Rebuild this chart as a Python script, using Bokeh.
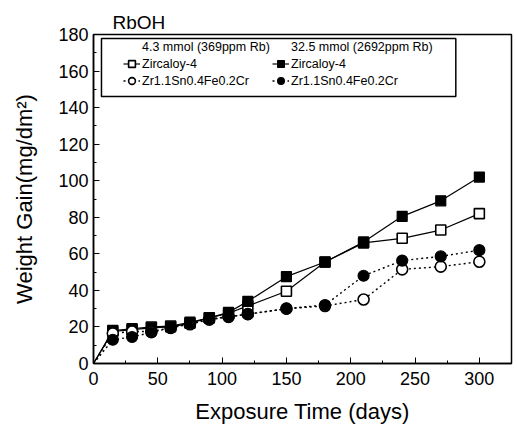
from bokeh.plotting import figure
from bokeh.models import (Legend, LegendItem, BoxAnnotation, Range1d,
                          SingleIntervalTicker)
from bokeh.embed import file_html
from bokeh.resources import INLINE

# ---- data ----
days = [0, 15, 30, 45, 60, 75, 90, 105, 120, 150, 180, 210, 240, 270, 300]
zry4_low = [0, 18, 19, 20, 20.5, 22.5, 25, 27.5, 31.5, 39.5, 55.5, 66, 68.5, 73, 82]
zry4_high = [0, 17.5, 18.5, 19.5, 20, 22, 25, 28, 34, 47.5, 55.5, 66.5, 80.5, 89, 102]
zr1_low = [0, 16.5, 17.5, 17.5, 19.5, 21.5, 24, 25.5, 27, 30, 31.5, 35, 51.5, 53, 55.7]
zr1_high = [0, 13, 14.5, 17, 19.5, 22, 24.5, 25.5, 27, 30, 32, 48, 56.3, 58.6, 62]

header_low = "4.3 mmol (369ppm Rb)"
header_high = "32.5 mmol (2692ppm Rb)"
name_zry4 = "Zircaloy-4"
name_zr1 = "Zr1.1Sn0.4Fe0.2Cr"

FONT = "Liberation Sans"

p = figure(width=514, height=426, output_backend="svg", toolbar_location=None,
           x_range=Range1d(0, 325), y_range=Range1d(0, 180),
           min_border_left=93, min_border_right=3, min_border_top=34,
           min_border_bottom=63, background_fill_color="white",
           border_fill_color="white")
p.xgrid.visible = False
p.ygrid.visible = False
p.outline_line_color = "black"
p.outline_line_width = 1.5
p.outline_line_alpha = 1

p.title.text = "RbOH"
p.title.align = "left"
p.title.offset = 19
p.title.standoff = 3
p.title.text_font = FONT
p.title.text_font_size = "19px"
p.title.text_font_style = "normal"
p.title.text_color = "black"

p.xaxis.ticker = SingleIntervalTicker(interval=50, num_minor_ticks=2)
p.yaxis.ticker = SingleIntervalTicker(interval=20, num_minor_ticks=2)
p.xaxis.axis_label = "Exposure Time (days)"
p.yaxis.axis_label = "Weight Gain(mg/dm²)"
for ax in (p.xaxis[0], p.yaxis[0]):
    ax.axis_line_width = 1.5
    ax.axis_line_color = "black"
    ax.major_tick_in = 6
    ax.major_tick_out = 0
    ax.minor_tick_in = 3
    ax.minor_tick_out = 0
    ax.major_tick_line_color = "black"
    ax.minor_tick_line_color = "black"
    ax.major_label_text_font = FONT
    ax.major_label_text_font_size = "18px"
    ax.major_label_text_color = "black"
    ax.axis_label_text_font = FONT
    ax.axis_label_text_font_size = "22px"
    ax.axis_label_text_font_style = "normal"
    ax.axis_label_text_color = "black"
p.xaxis.major_label_standoff = 8
p.xaxis.axis_label_standoff = 11
p.yaxis.major_label_standoff = 5
p.yaxis.axis_label_standoff = 18

# ---- series ----
r1 = p.line(days, zry4_low, line_color="black", line_width=1.2)
r2 = p.line(days, zry4_high, line_color="black", line_width=1.2)
r3 = p.line(days, zr1_low, line_color="black", line_width=1.4, line_dash="2 3")
r4 = p.line(days, zr1_high, line_color="black", line_width=1.4, line_dash="2 3")

s1 = p.scatter(days[1:], zry4_low[1:], marker="square", size=10,
               fill_color="white", line_color="black", line_width=1.6)
s2 = p.scatter(days[1:], zry4_high[1:], marker="square", size=10,
               fill_color="black", line_color="black", line_width=1.2)
s3 = p.scatter(days[1:], zr1_low[1:], marker="circle", size=11,
               fill_color="white", line_color="black", line_width=1.6)
s4 = p.scatter(days[1:], zr1_high[1:], marker="circle", size=11,
               fill_color="black", line_color="black", line_width=1.2)

# invisible renderer for the header rows of the legend
h = p.scatter([-100], [-100], size=0, fill_alpha=0, line_alpha=0)

legend = Legend(items=[
    LegendItem(label=header_low, renderers=[h]),
    LegendItem(label=name_zry4, renderers=[r1, s1]),
    LegendItem(label=name_zr1, renderers=[r3, s3]),
    LegendItem(label=header_high, renderers=[h]),
    LegendItem(label=name_zry4, renderers=[r2, s2]),
    LegendItem(label=name_zr1, renderers=[r4, s4]),
], ncols=2, location=(26, 270), padding=4, spacing=0, margin=0,
    glyph_width=17, glyph_height=17, label_height=16, label_width=130,
    label_standoff=2, label_text_font=FONT, label_text_font_size="12.5px",
    label_text_color="black", border_line_alpha=0, background_fill_alpha=0)
p.add_layout(legend, "center")

p.add_layout(BoxAnnotation(left=6.2, right=281.7, top=177.8, bottom=146.1,
                           fill_alpha=0, line_color="black", line_alpha=1,
                           line_width=1.5))

open("out.html", "w").write(file_html(p, INLINE))
